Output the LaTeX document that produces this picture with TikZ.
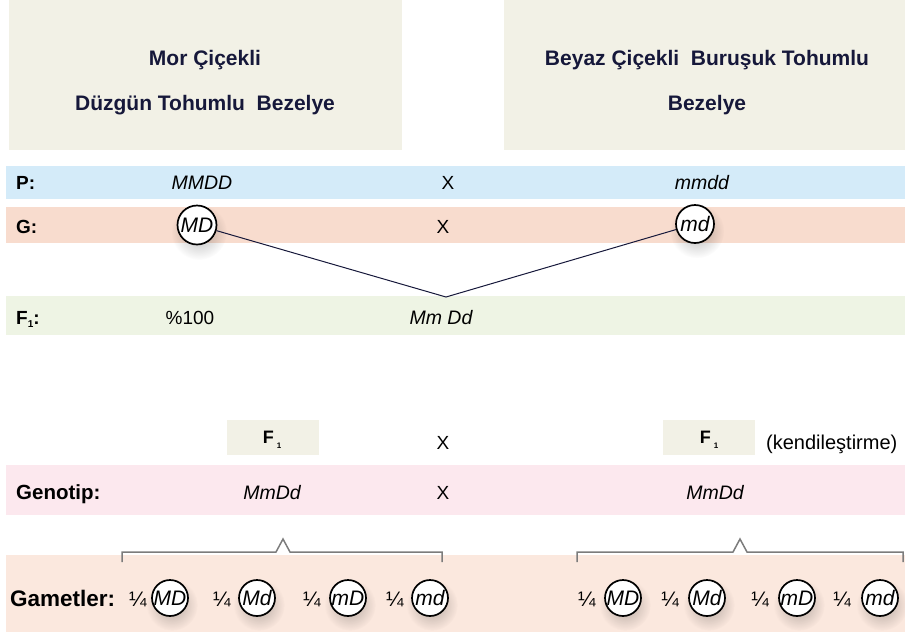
\documentclass[tikz,border=0pt]{standalone}
\usepackage{fontspec}
\setmainfont{Liberation Sans}
\usetikzlibrary{fadings}
\definecolor{boxbg}{HTML}{F2F1E6}
\definecolor{pband}{HTML}{D4EBF9}
\definecolor{gband}{HTML}{F8DCCE}
\definecolor{fband}{HTML}{EEF4E4}
\definecolor{genband}{HTML}{FCE8EE}
\definecolor{gamband}{HTML}{FBE8DE}
\definecolor{navy}{HTML}{16183A}
\definecolor{brk}{HTML}{7C7C7C}
\tikzfading[name=softdot, inner color=transparent!20, outer color=transparent!100]
\newcommand\gamcirc[6]{%
  \fill[black, opacity=0.35, path fading=softdot] (#2+2,#3+7) circle (#5*0.72);
  \node[gam, minimum size=#5, font=\fontsize{#6}{#6}\selectfont\itshape] (#1) at (#2,#3) {#4};}
\begin{document}
\begin{tikzpicture}[x=1pt,y=-1pt,
  title/.style={font=\fontsize{21}{25}\selectfont\bfseries, text=navy, inner sep=0pt, anchor=base},
  lbl/.style={font=\fontsize{19}{23}\selectfont\bfseries, anchor=base west, inner sep=0pt},
  txt/.style={font=\fontsize{19}{23}\selectfont, anchor=base, inner sep=0pt},
  geno/.style={font=\fontsize{19.5}{23}\selectfont\itshape, anchor=base, inner sep=0pt},
  gam/.style={draw=black, line width=1.7pt, circle, fill=white, inner sep=0pt},
  fbox/.style={fill=boxbg, minimum width=92pt, minimum height=35pt, inner sep=0pt},
  ftext/.style={font=\fontsize{18}{20}\selectfont\bfseries, anchor=base, inner sep=0pt},
  bracket/.style={draw=brk, line width=1.5pt}]
\useasboundingbox (0,0) rectangle (905,638);
% top boxes
\fill[boxbg] (9,0) rectangle (402,150);
\fill[boxbg] (504,0) rectangle (905,150);
\node[title] (t1) at (205,65) {Mor Çiçekli};
\node[title] (t2) at (205,110) {Düzgün Tohumlu\ \ Bezelye};
\node[title] (t3) at (707,65) {Beyaz Çiçekli\ \ Buruşuk Tohumlu};
\node[title] (t4) at (707,110) {Bezelye};
% bands
\fill[pband] (6,166) rectangle (905,199);
\fill[gband] (6,207) rectangle (905,243);
\fill[fband] (6,296) rectangle (905,335);
\fill[genband] (6,465) rectangle (905,515);
\fill[gamband] (6,555) rectangle (905,632);
% P row
\node[lbl] (pl) at (16,189) {P:};
\node[geno] (pa) at (202,189) {MMDD};
\node[txt] (px) at (448,189) {X};
\node[geno] (pb) at (702,189) {mmdd};
% G row
\node[lbl] (gl) at (16,233) {G:};
\node[txt] (gx) at (443,233) {X};
\gamcirc{gMD}{197}{225}{MD}{39}{21}
\gamcirc{gmd}{695}{224}{md}{38}{21}
\coordinate (tip) at (446,297);
\draw[navy, line width=1pt] (gMD) -- (tip) -- (gmd);
% F1 row
\node[lbl] (fl) at (16,324) {F\raisebox{-3pt}{\fontsize{10}{10}\selectfont 1}:};
\node[txt] (fp) at (190,324) {\%100};
\node[geno] (fg) at (441,324) {Mm Dd};
% F1 x F1
\node[fbox] (f1a) at (272.5,437.5) {};
\node[fbox] (f1b) at (709,437.5) {};
\node[ftext] (f1at) at (272,443) {F\,\raisebox{-5pt}{\fontsize{8}{8}\selectfont 1}};
\node[ftext] (f1bt) at (709,443) {F\,\raisebox{-5pt}{\fontsize{8}{8}\selectfont 1}};
\node[txt] (fx) at (443,449) {X};
\node[font=\fontsize{20}{24}\selectfont, anchor=base west, inner sep=0pt] (kend) at (766,449) {(kendileştirme)};
% Genotip row
\node[lbl, font=\fontsize{20.5}{24}\selectfont\bfseries] (genl) at (16,499) {Genotip:};
\node[geno] (gena) at (272,499) {MmDd};
\node[txt] (genx) at (443,499) {X};
\node[geno] (genb) at (715,499) {MmDd};
% brackets
\draw[bracket] (122,562) -- (122,552) -- (276,552) -- (283,539) -- (290,552) -- (442,552) -- (442,562);
\draw[bracket] (577,562) -- (577,552) -- (733,552) -- (740,539) -- (747,552) -- (903,552) -- (903,562);
% Gametler row
\node[lbl, font=\fontsize{22.5}{26}\selectfont\bfseries] (gaml) at (10,606) {Gametler:};
\foreach \q/\c/\lab/\nm in {138/170/MD/a, 222/257/Md/b, 312/348/mD/c, 395/430/md/d,
                            587/623/MD/e, 670/707/Md/f, 760/797/mD/g, 842/880/md/h} {
  \node[txt, font=\fontsize{21}{24}\selectfont] (q\nm) at (\q,606) {¼};
  \gamcirc{c\nm}{\c}{598}{\lab}{36}{21}
}
\end{tikzpicture}
\end{document}
